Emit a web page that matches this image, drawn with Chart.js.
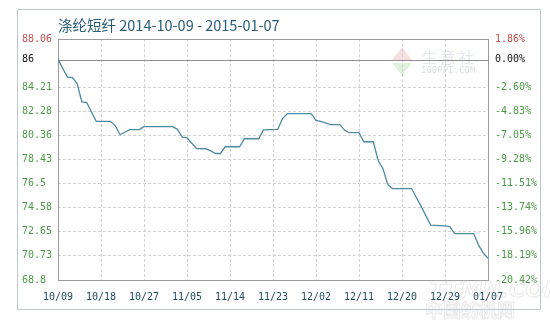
<!DOCTYPE html>
<html>
<head>
<meta charset="utf-8">
<script src="https://cdn.jsdelivr.net/npm/chart.js@4/dist/chart.umd.min.js"></script>
<style>
  html, body { margin: 0; padding: 0; background: #fff; }
</style>
</head>
<body>
<canvas id="chart" width="550" height="320"></canvas>
<script>
const chartTitle = '涤纶短纤 2014-10-09 - 2015-01-07';

// x ticks every 9 days from 2014-10-09
const xTickLabels = ['10/09', '10/18', '10/27', '11/05', '11/14', '11/23', '12/02', '12/11', '12/20', '12/29', '01/07'];

// day offset from 10/09 and price
const days = [0, 2, 3, 4, 5, 6, 8, 11, 12, 13, 15, 17, 18, 24, 25, 26, 27, 29, 31, 33,
  34, 35, 38, 39, 42, 43, 46, 47, 48, 53, 54, 55, 57, 59, 60, 61, 63, 64, 66, 67,
  68, 69, 70, 74, 76, 78, 81, 82, 83, 87, 88, 89, 90];
const prices = [86.41, 84.99, 84.99, 84.50, 83.03, 82.98, 81.48, 81.48, 81.12, 80.41,
  80.82, 80.82, 81.05, 81.05, 80.84, 80.22, 80.16, 79.31, 79.29, 78.91,
  78.91, 79.45, 79.45, 80.09, 80.09, 80.80, 80.84, 81.70, 82.10, 82.10,
  81.56, 81.48, 81.22, 81.22, 80.76, 80.57, 80.57, 79.85, 79.85, 78.35,
  77.71, 76.46, 76.11, 76.11, 74.68, 73.19, 73.13, 73.07, 72.51, 72.51,
  71.61, 70.97, 70.54];

const baseValue = 86.41;
const leftTickValues = [68.8, 70.73, 72.65, 74.58, 76.5, 78.43, 80.36, 82.28, 84.21, baseValue, 88.06];
const leftTickLabels = ['68.8', '70.73', '72.65', '74.58', '76.5', '78.43', '80.36', '82.28', '84.21', '86', '88.06'];
const rightTickValues = [-20.42, -18.19, -15.96, -13.74, -11.51, -9.28, -7.05, -4.83, -2.60, 0, 1.86];
const rightTickLabels = ['-20.42%', '-18.19%', '-15.96%', '-13.74%', '-11.51%', '-9.28%', '-7.05%', '-4.83%', '-2.60%', '0.00%', '1.86%'];

const GREEN = '#4c9a48';
const RED = '#c0504d';
const MONO = { family: 'DejaVu Sans Mono', size: 10 };
const dashed = (ctx) => (ctx.type === 'tick' ? [3, 2] : []);

const decor = {
  id: 'decor',
  beforeDraw(chart) {
    const c = chart.ctx;
    c.save();
    // outer frame
    c.strokeStyle = '#bfc8d0';
    c.lineWidth = 1;
    c.strokeRect(17.5, 9.5, 523, 300);
    // title
    c.fillStyle = '#2a5d7a';
    c.font = '14.5px "Noto Sans CJK SC", "Noto Sans", sans-serif';
    c.textBaseline = 'middle';
    c.textAlign = 'left';
    c.fillText(chartTitle, 58, 25);
    // 100ppi watermark
    c.fillStyle = '#f6e0e0';
    c.beginPath(); c.moveTo(402, 47); c.lineTo(392, 60); c.lineTo(412, 60); c.closePath(); c.fill();
    c.fillStyle = '#dff0dd';
    c.beginPath(); c.moveTo(392, 63); c.lineTo(412, 63); c.lineTo(402, 75); c.closePath(); c.fill();
    c.fillStyle = '#e2e8ed';
    c.font = '15px "Noto Sans CJK SC", sans-serif';
    c.fillText('生 意 社', 422, 57);
    c.font = '9px "DejaVu Sans Mono", monospace';
    c.fillStyle = '#d9dfe4';
    c.fillText('100PPI.COM', 421, 71);
    c.restore();
  },
  beforeDatasetsDraw(chart) {
    const c = chart.ctx;
    const a = chart.chartArea;
    const yb = Math.round(chart.scales.y.getPixelForValue(baseValue)) + 0.5;
    c.save();
    c.strokeStyle = '#8f8f8f';
    c.lineWidth = 1;
    c.beginPath(); c.moveTo(a.left, yb); c.lineTo(a.right, yb); c.stroke();
    c.strokeStyle = '#9a9a9a';
    c.strokeRect(Math.round(a.left) + 0.5, Math.round(a.top) + 0.5, Math.round(a.right - a.left), Math.round(a.bottom - a.top));
    c.restore();
  },
  afterDraw(chart) {
    const c = chart.ctx;
    c.save();
    c.font = 'italic bold 22px "DejaVu Sans", sans-serif';
    c.strokeStyle = 'rgba(200,200,200,0.4)';
    c.lineWidth = 1;
    c.textBaseline = 'middle';
    c.strokeText('TTMN.COM', 430, 291);
    c.font = 'bold 18px "Noto Sans CJK SC", sans-serif';
    c.strokeText('中国纺机网', 425, 310);
    c.restore();
  }
};

new Chart(document.getElementById('chart'), {
  type: 'line',
  data: {
    datasets: [{
      data: days.map((d, i) => ({ x: d, y: prices[i] })),
      borderColor: '#4e8ba0',
      borderWidth: 1.3,
      pointRadius: 0,
      tension: 0,
      fill: false,
      yAxisID: 'y',
    }],
  },
  options: {
    responsive: false,
    animation: false,
    layout: { padding: { left: 22, top: 39, right: 0, bottom: 0 } },
    plugins: { legend: { display: false }, tooltip: { enabled: false } },
    scales: {
      x: {
        type: 'linear',
        min: 0,
        max: 90,
        afterFit: (s) => { s.height = 40; },
        grid: { color: '#d2d2d2', drawTicks: false },
        border: { display: false, dash: dashed },
        ticks: {
          stepSize: 9,
          autoSkip: false,
          maxRotation: 0,
          padding: 11,
          color: '#1f4b5c',
          font: MONO,
          callback: (v, i) => xTickLabels[i],
        },
      },
      y: {
        position: 'left',
        min: 68.8,
        max: 88.06,
        afterBuildTicks: (s) => { s.ticks = leftTickValues.map((v) => ({ value: v })); },
        afterFit: (s) => { s.width = 36; },
        grid: {
          drawTicks: false,
          color: (ctx) => (ctx.tick && ctx.tick.value === baseValue ? 'rgba(0,0,0,0)' : '#d2d2d2'),
        },
        border: { display: false, dash: dashed },
        ticks: {
          crossAlign: 'far',
          padding: 0,
          font: MONO,
          color: (ctx) => (ctx.index === 10 ? RED : ctx.index === 9 ? '#111' : GREEN),
          callback: (v, i) => leftTickLabels[i],
        },
      },
      y1: {
        position: 'right',
        min: -20.42,
        max: 1.86,
        afterBuildTicks: (s) => { s.ticks = rightTickValues.map((v) => ({ value: v })); },
        afterFit: (s) => { s.width = 62; },
        grid: { drawOnChartArea: false, drawTicks: false },
        border: { display: false },
        ticks: {
          padding: 7,
          font: MONO,
          color: (ctx) => (ctx.index === 10 ? RED : ctx.index === 9 ? '#111' : GREEN),
          callback: (v, i) => rightTickLabels[i],
        },
      },
    },
  },
  plugins: [decor],
});
</script>
</body>
</html>
